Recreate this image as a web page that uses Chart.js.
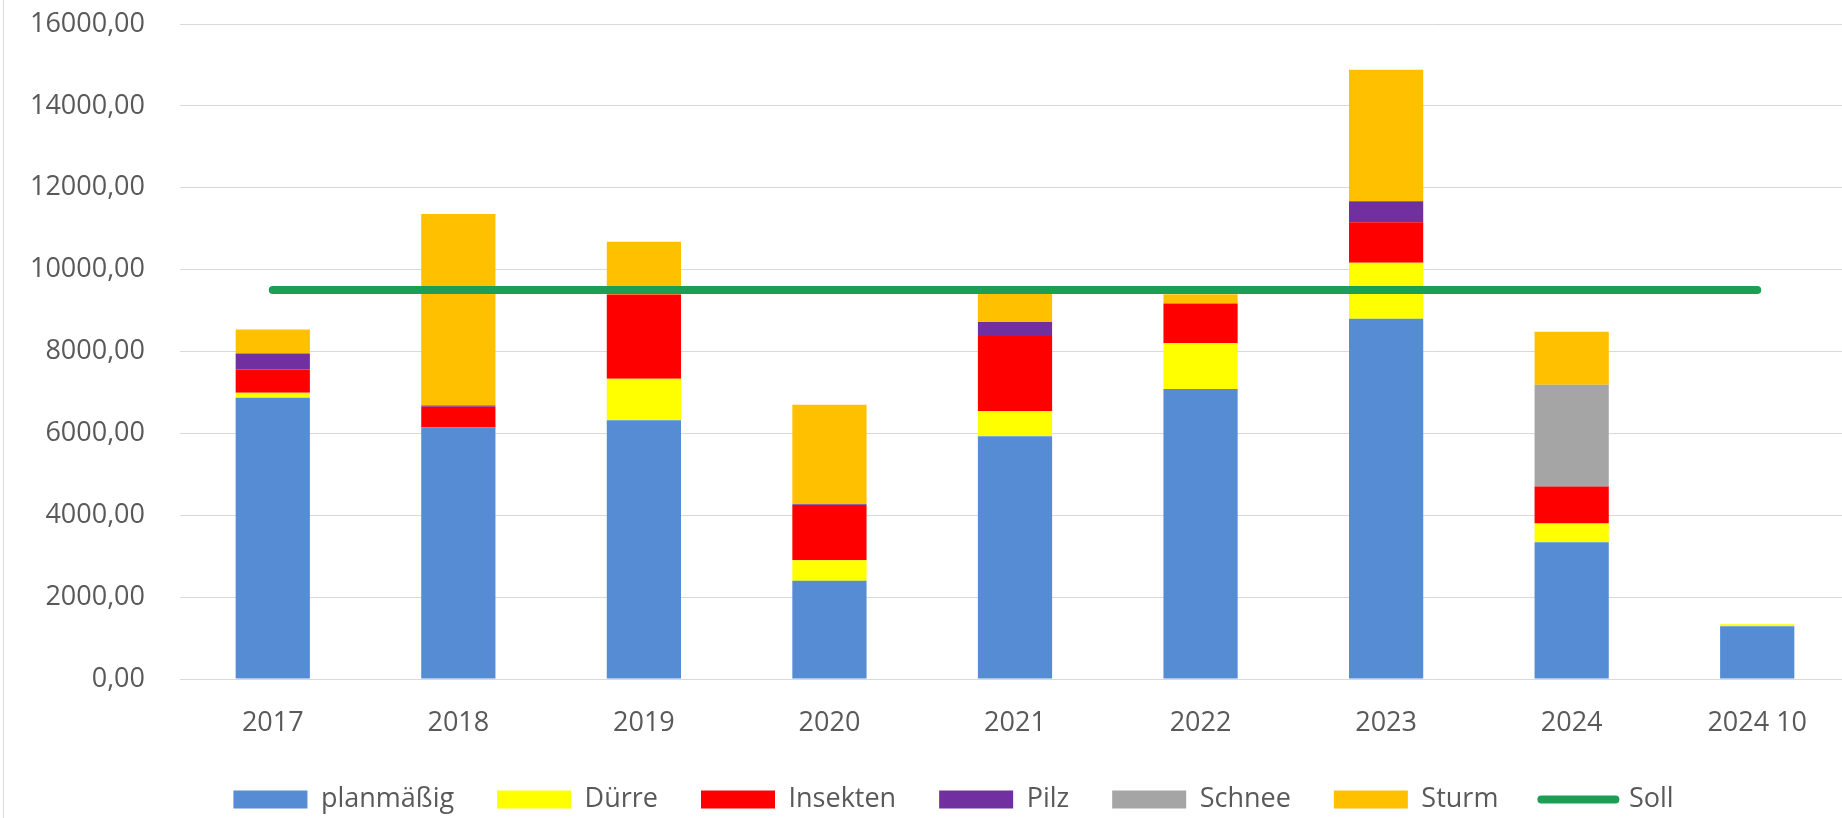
<!DOCTYPE html>
<html>
<head>
<meta charset="utf-8">
<script src="https://cdn.jsdelivr.net/npm/chart.js@4.4.0/dist/chart.umd.min.js"></script>
<style>
html,body{margin:0;padding:0;background:#fff;overflow:hidden;width:1842px;height:818px;}
#wrap{position:relative;width:1907px;height:818px;}
</style>
</head>
<body>
<div id="wrap"><canvas id="c"></canvas></div>
<script>
const categories = ['2017','2018','2019','2020','2021','2022','2023','2024','2024 10'];
const planmaessig = [6870, 6150, 6320, 2400, 5930, 7085, 8800, 3340, 1290];
const duerre      = [120,  0,    1015, 500,  610,  1115, 1370, 460,  50];
const insekten    = [570,  500,  2060, 1350, 1840, 970,  985,  900,  0];
const pilz        = [390,  30,   0,    20,   340,  0,    515,  0,    0];
const schnee      = [0,    0,    0,    0,    0,    0,    0,    2485, 0];
const sturm       = [590,  4680, 1285, 2430, 770,  230,  3215, 1295, 0];
const soll        = [9500, 9500, 9500, 9500, 9500, 9500, 9500, 9500, 9500];
const yTicks = { min: 0, max: 16000, step: 2000 };

const textColor = '#595959';
const font = { family: "'Open Sans', 'Noto Sans', sans-serif", size: 27 };

const barSet = (label, data, color) => ({
  type: 'bar', label, data, backgroundColor: color, borderWidth: 0,
  stack: 's', order: 1, barPercentage: 0.4, categoryPercentage: 1.0
});

const frame = {
  id: 'frame',
  beforeDraw(chart) {
    if (chart.legend) chart.legend.left = 57;
    const c = chart.ctx;
    c.save();
    c.fillStyle = '#fff';
    c.fillRect(0, 0, chart.width, chart.height);
    c.strokeStyle = '#d9d9d9';
    c.lineWidth = 1;
    c.beginPath();
    c.moveTo(3.5, 0);
    c.lineTo(3.5, chart.height);
    c.stroke();
    c.restore();
  }
};

new Chart(document.getElementById('c'), {
  data: {
    labels: categories,
    datasets: [
      barSet('planmäßig', planmaessig, '#558CD3'),
      barSet('Dürre', duerre, '#FFFF00'),
      barSet('Insekten', insekten, '#FF0000'),
      barSet('Pilz', pilz, '#7030A0'),
      barSet('Schnee', schnee, '#A5A5A5'),
      barSet('Sturm', sturm, '#FFC000'),
      {
        type: 'line', label: 'Soll', data: soll, borderColor: '#1A9F55',
        backgroundColor: '#1A9F55', borderWidth: 8, borderCapStyle: 'round',
        pointRadius: 0, pointHoverRadius: 0, fill: false, order: 0, tension: 0
      }
    ]
  },
  options: {
    responsive: true,
    maintainAspectRatio: false,
    animation: false,
    layout: { padding: { left: 0, right: 57, top: 24, bottom: -5 } },
    scales: {
      x: {
        stacked: true,
        grid: { display: false, drawTicks: false },
        border: { display: false },
        ticks: { color: textColor, font, padding: 28, maxRotation: 0, autoSkip: false },
        afterFit(s) { s.height = 64; s.paddingLeft = 0; s.paddingRight = 0; }
      },
      y: {
        stacked: true,
        min: yTicks.min, max: yTicks.max,
        grid: { color: '#d9d9d9', lineWidth: 1, drawTicks: false },
        border: { display: false },
        ticks: {
          stepSize: yTicks.step, color: textColor, font, padding: 35,
          callback: v => v.toFixed(2).replace('.', ',')
        },
        afterFit(s) { s.width = 180; s.paddingTop = 16; s.paddingBottom = 16; }
      }
    },
    plugins: {
      tooltip: { enabled: false },
      legend: {
        position: 'bottom',
        labels: {
          usePointStyle: true,
          pointStyleWidth: 74,
          boxHeight: 18,
          padding: 43,
          color: textColor,
          font,
          generateLabels(chart) {
            return chart.data.datasets.map((ds, i) => {
              const isLine = ds.type === 'line';
              return {
                text: ds.label,
                fillStyle: isLine ? ds.borderColor : ds.backgroundColor,
                strokeStyle: isLine ? ds.borderColor : ds.backgroundColor,
                lineWidth: isLine ? 8 : 0,
                lineCap: 'round',
                pointStyle: isLine ? 'line' : 'rect',
                fontColor: textColor,
                hidden: false,
                datasetIndex: i
              };
            });
          }
        }
      }
    }
  },
  plugins: [frame]
});
</script>
</body>
</html>
